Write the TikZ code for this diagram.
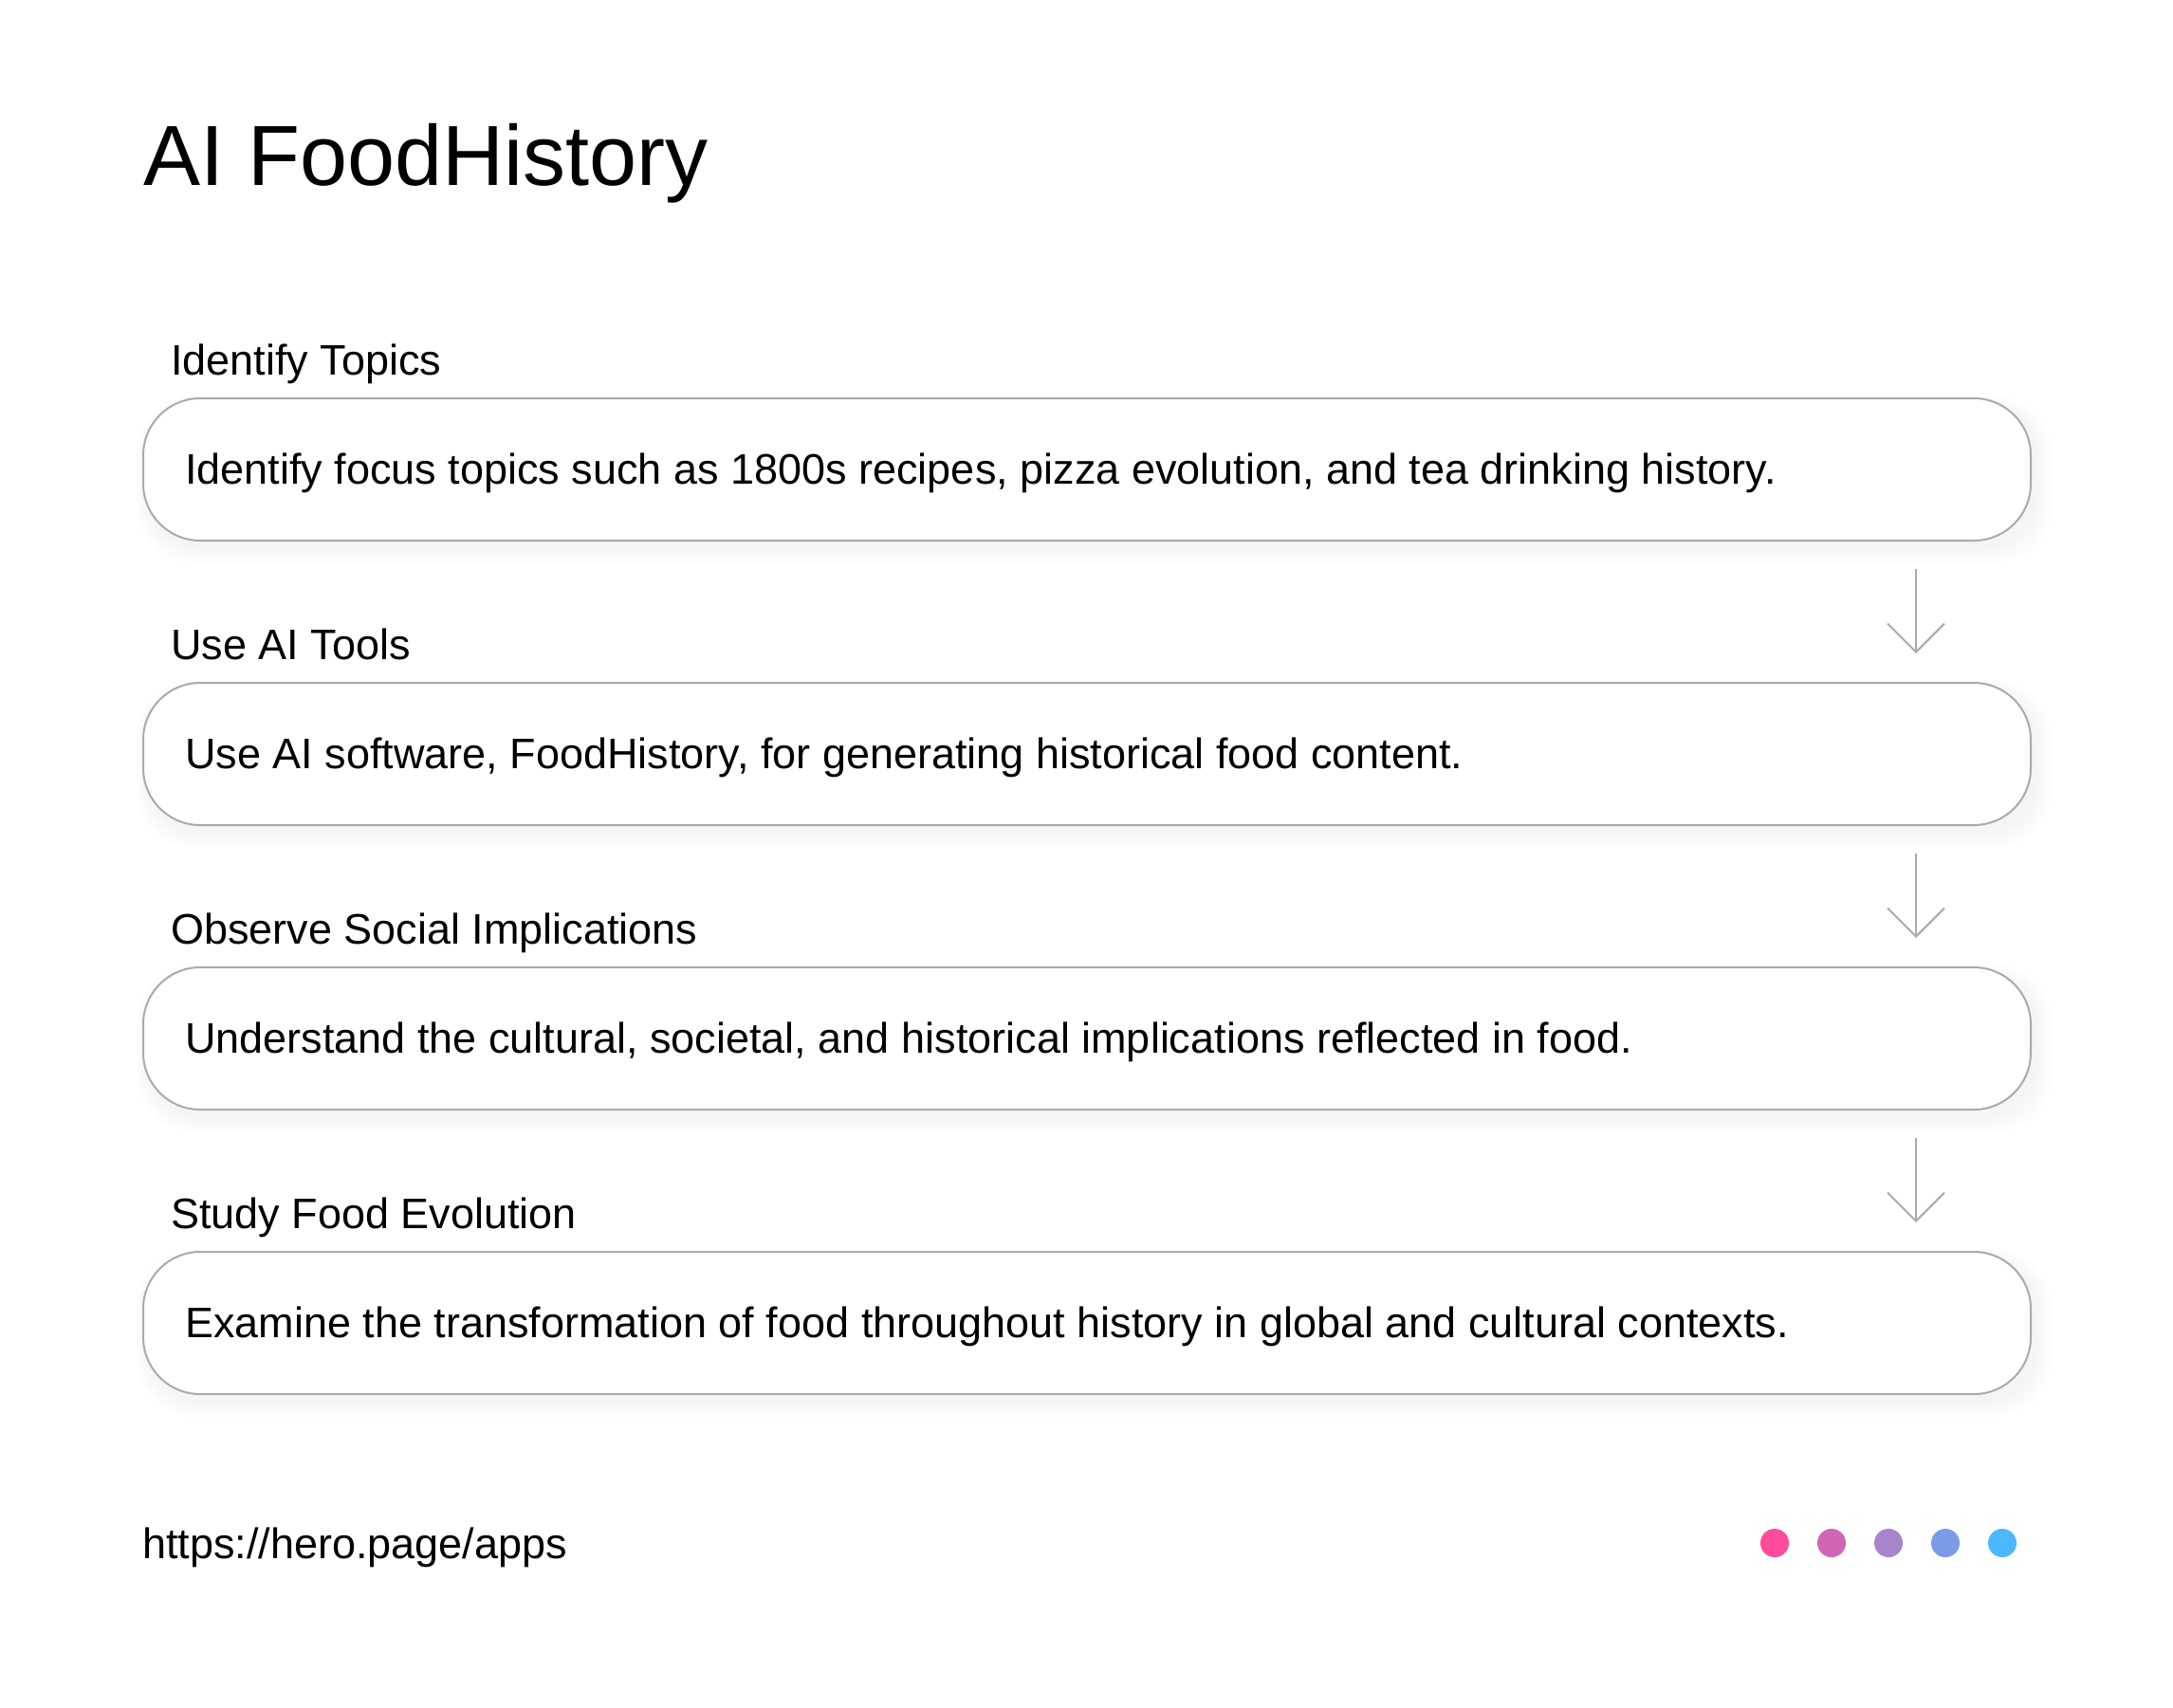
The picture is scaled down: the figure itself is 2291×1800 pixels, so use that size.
\documentclass[tikz,border=0pt]{standalone}
\usepackage{fontspec}
\setmainfont{Liberation Sans}
\usetikzlibrary{arrows.meta,calc}
\definecolor{edgegray}{HTML}{AAAAAA}
\definecolor{dotA}{HTML}{FF4B9B}
\definecolor{dotB}{HTML}{CF65B5}
\definecolor{dotC}{HTML}{A884CC}
\definecolor{dotD}{HTML}{7A9CE6}
\definecolor{dotE}{HTML}{4DB8FF}
\tikzset{
  stepbox/.style={draw=edgegray, line width=2pt, fill=white, rounded corners=60pt,
    minimum width=1990pt, minimum height=150pt, inner sep=0pt, anchor=north west},
  shadowbox/.style={fill=black, fill opacity=0.005, rounded corners=60pt},
  heading/.style={anchor=base west, inner sep=0pt, font=\fontsize{45pt}{54pt}\selectfont},
  bodytext/.style={anchor=base west, inner sep=0pt, font=\fontsize{45pt}{54pt}\selectfont},
  flowarrow/.style={draw=edgegray, line width=2pt, -{Straight Barb[length=30pt,width=60pt,line width=2pt]},
    shorten <=29pt, shorten >=30pt},
  dot/.style={circle, minimum size=30pt, inner sep=0pt, draw=none}
}
\begin{document}
\begin{tikzpicture}[x=1pt,y=-1pt]
\useasboundingbox (0,0) rectangle (2291,1800);
\fill[white] (0,0) rectangle (2291,1800);
\node[anchor=base west, inner sep=0pt, font=\fontsize{90pt}{100pt}\selectfont] (title) at (151,195) {AI FoodHistory};
% soft shadows
\foreach \y in {419,719,1019,1319}{
  \foreach \i in {1,...,10}{
    \fill[shadowbox] (156-\i*1.2,\y+8-\i*1.0) rectangle (2146+\i*1.8,\y+150+8+\i*1.8);
  }
}
\node[stepbox] (b1) at (150,419) {};
\node[stepbox] (b2) at (150,719) {};
\node[stepbox] (b3) at (150,1019) {};
\node[stepbox] (b4) at (150,1319) {};
\node[heading] (h1) at (180,395) {Identify Topics};
\node[heading] (h2) at (180,695) {Use AI Tools};
\node[heading] (h3) at (180,995) {Observe Social Implications};
\node[heading] (h4) at (180,1295) {Study Food Evolution};
\node[bodytext] (t1) at (195,510) {Identify focus topics such as 1800s recipes, pizza evolution, and tea drinking history.};
\node[bodytext] (t2) at (195,810) {Use AI software, FoodHistory, for generating historical food content.};
\node[bodytext] (t3) at (195,1110) {Understand the cultural, societal, and historical implications reflected in food.};
\node[bodytext] (t4) at (195,1410) {Examine the transformation of food throughout history in global and cultural contexts.};
\draw[flowarrow] ($(b1.south east)+(-122,0)$) -- ($(b2.north east)+(-122,0)$);
\draw[flowarrow] ($(b2.south east)+(-122,0)$) -- ($(b3.north east)+(-122,0)$);
\draw[flowarrow] ($(b3.south east)+(-122,0)$) -- ($(b4.north east)+(-122,0)$);
\node[bodytext] (url) at (150,1643) {https://hero.page/apps};
\node[dot, fill=dotA] (d1) at (1871,1627) {};
\node[dot, fill=dotB] (d2) at (1931,1627) {};
\node[dot, fill=dotC] (d3) at (1991,1627) {};
\node[dot, fill=dotD] (d4) at (2051,1627) {};
\node[dot, fill=dotE] (d5) at (2111,1627) {};
\end{tikzpicture}
\end{document}
